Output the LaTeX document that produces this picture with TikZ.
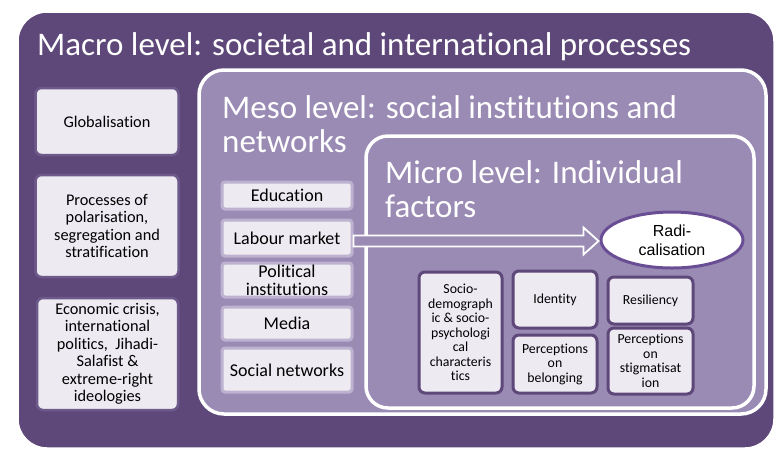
\documentclass[tikz,border=0pt]{standalone}
\usepackage{fontspec}
\setmainfont{Carlito}[Ligatures=NoCommon]
\newfontfamily\arialfont{Liberation Sans}
\usetikzlibrary{positioning,calc,shapes.geometric}

\definecolor{macrofill}{HTML}{5E487A}
\definecolor{mesofill}{HTML}{9A8BB4}
\definecolor{boxfill}{HTML}{EDEAF2}
\definecolor{macroedge}{HTML}{6E5A8A}
\definecolor{mesoedge}{HTML}{BDB2D0}
\definecolor{ringedge}{HTML}{6A4E95}

\tikzset{
  level/.style={draw=white, line width=3.5pt, inner sep=0pt},
  leveltitle/.style={text=white, inner sep=0pt, align=left,
    font=\fontsize{33}{33.5}\selectfont},
  macrobox/.style={draw=macroedge, fill=boxfill, line width=2.5pt,
    rounded corners=6pt, align=center, font=\fontsize{16.3}{17.5}\selectfont},
  mesobox/.style={draw=mesoedge, fill=boxfill, line width=3pt,
    rounded corners=3pt, align=center, minimum width=130pt, inner sep=1pt,
    font=\fontsize{18}{18}\selectfont},
  microbox/.style={draw=macrofill, fill=boxfill, line width=3pt,
    rounded corners=6pt, align=center, inner sep=1pt,
    font=\fontsize{13.8}{14.5}\selectfont},
  blockarrow/.style={draw=white, fill=mesofill, line width=1.8pt, line join=miter}
}

\begin{document}
\begin{tikzpicture}[x=1pt, y=-1pt]
    \useasboundingbox (0,0) rectangle (779,451);

    % the three levels (base of a two-line title is its last line)
    \node[level, fill=macrofill, rounded corners=30pt,
      minimum width=758pt, minimum height=438pt] (macro) at (396,230) {};
    \node[leveltitle, anchor=base west] (macrotitle) at (37,55)
      {Macro level: societal and international processes};

    \node[level, fill=mesofill, rounded corners=25pt,
      minimum width=567pt, minimum height=344pt] (meso) at (482.5,242) {};
    \node[leveltitle, anchor=base west] (mesotitle) at (222,152)
      {Meso level: social institutions and\\networks};

    \node[level, fill=mesofill, rounded corners=22pt,
      minimum width=388pt, minimum height=272pt] (micro) at (560,272) {};
    \node[leveltitle, anchor=base west] (microtitle) at (385,217)
      {Micro level: Individual\\factors};

    % macro factors
    \node[macrobox, minimum width=143pt, minimum height=67pt] (glob) at (107,121.5)
      {Globalisation};
    \node[macrobox, minimum width=143pt, minimum height=102pt] (polar) at (107,226)
      {Processes of\\polarisation,\\segregation and\\stratification};
    \node[macrobox, minimum width=141pt, minimum height=112pt] (econ) at (107.5,354)
      {Economic crisis,\\international\\politics,\ \ Jihadi-\\Salafist \&\\extreme-right\\ideologies};

    % meso factors
    \node[mesobox, minimum height=27pt] (edu) at (287,195.5) {Education};
    \node[mesobox, minimum height=36pt] (labour) at (287,238) {Labour market};
    \node[mesobox, minimum height=34pt] (polit) at (287,280) {Political\\institutions};
    \node[mesobox, minimum height=33pt] (media) at (287,323.5) {Media};
    \node[mesobox, minimum height=44pt] (social) at (287,370) {Social networks};

    % micro factors
    \node[ellipse, draw=ringedge, fill=white, line width=3pt, minimum width=142pt,
      minimum height=56pt, inner sep=0pt, align=center,
      font=\arialfont\fontsize{16}{19}\selectfont]
      (radical) at (672,240) {Radi-\\calisation};
    \node[microbox, minimum width=83pt, minimum height=121pt] (socio) at (460.5,332.5)
      {Socio-\\demograph\\ic \& socio-\\psychologi\\cal\\characteris\\tics};
    \node[microbox, minimum width=84pt, minimum height=57pt] (ident) at (555,299.5)
      {Identity};
    \node[microbox, minimum width=84pt, minimum height=58pt] (belong) at (555,364)
      {Perceptions\\on\\belonging};
    \node[microbox, minimum width=85pt, minimum height=47pt] (resil) at (650.5,300.5)
      {Resiliency};
    \node[microbox, minimum width=85pt, minimum height=66pt] (stigma) at (650.5,361)
      {Perceptions\\on\\stigmatisat\\ion};

    % hollow arrow labour market -> radicalisation
    \draw[blockarrow] let \p1=(labour.east), \p2=(radical.west) in
      (\x1,\y1+2.5pt) -- (\x2-16pt,\y1+2.5pt) -- (\x2-16pt,\y1+10.5pt)
      -- (\x2-1pt,\y1-3pt) -- (\x2-16pt,\y1-16.5pt) -- (\x2-16pt,\y1-8.5pt)
      -- (\x1,\y1-8.5pt) -- cycle;
\end{tikzpicture}
\end{document}
